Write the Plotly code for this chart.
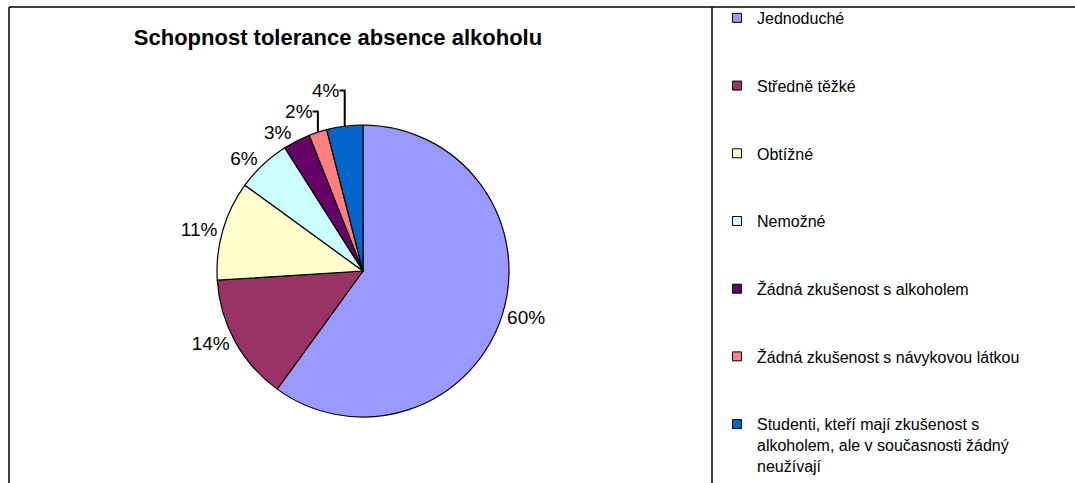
import plotly.graph_objects as go

categories = [
    "Jednoduché",
    "Středně těžké",
    "Obtížné",
    "Nemožné",
    "Žádná zkušenost s alkoholem",
    "Žádná zkušenost s návykovou látkou",
    "Studenti, kteří mají zkušenost s alkoholem, ale v současnosti žádný neužívají",
]
legend_labels = [
    "Jednoduché",
    "Středně těžké",
    "Obtížné",
    "Nemožné",
    "Žádná zkušenost s alkoholem",
    "Žádná zkušenost s návykovou látkou",
    "Studenti, kteří mají zkušenost s<br>alkoholem, ale v současnosti žádný<br>neužívají",
]
values = [60, 14, 11, 6, 3, 2, 4]
colors = ["#9999FF", "#993366", "#FFFFCC", "#CCFFFF", "#660066", "#FF8080", "#0066CC"]
title_text = "Schopnost tolerance absence alkoholu"

W, H = 1075, 483
FONT = "Liberation Sans, Arial, sans-serif"

cx, cy, r = 363, 271, 146

fig = go.Figure()
fig.add_trace(go.Pie(
    labels=categories,
    values=values,
    sort=False,
    direction="clockwise",
    rotation=0,
    marker=dict(colors=colors, line=dict(color="black", width=1.2)),
    textposition="outside",
    texttemplate="%{value}%",
    textfont=dict(size=19, color="black", family=FONT),
    showlegend=False,
    domain=dict(x=[(cx - r) / W, (cx + r) / W], y=[1 - (cy + r) / H, 1 - (cy - r) / H]),
    hoverinfo="label+percent",
))

for i, (lab, c) in enumerate(zip(legend_labels, colors)):
    fig.add_trace(go.Scatter(
        x=[None], y=[None], mode="markers",
        marker=dict(symbol="square", size=9, color=c, line=dict(color="black", width=1)),
        name=lab, legendgroup=f"g{i}", showlegend=True, hoverinfo="skip",
    ))

shapes = [
    dict(type="line", xref="paper", yref="paper", x0=9 / W, x1=1.0, y0=1 - 7 / H, y1=1 - 7 / H,
         line=dict(color="black", width=1.5)),
    dict(type="line", xref="paper", yref="paper", x0=9 / W, x1=9 / W, y0=0, y1=1 - 7 / H,
         line=dict(color="black", width=1.5)),
    dict(type="line", xref="paper", yref="paper", x0=712 / W, x1=712 / W, y0=0, y1=1 - 7 / H,
         line=dict(color="black", width=1.5)),
]

fig.update_layout(
    width=W, height=H,
    margin=dict(l=0, r=0, t=0, b=0),
    paper_bgcolor="white", plot_bgcolor="white",
    font=dict(family=FONT, color="black"),
    title=dict(text=f"<b>{title_text}</b>", x=338 / W, xanchor="center", y=1 - 37 / H, yanchor="middle",
               font=dict(size=22, family=FONT, color="black")),
    xaxis=dict(visible=False), yaxis=dict(visible=False),
    legend=dict(x=717 / W, xanchor="left", y=1 - 17 / H, yanchor="top",
                traceorder="grouped", tracegroupgap=43.9, valign="top",
                font=dict(size=16, family=FONT, color="black"),
                bgcolor="rgba(0,0,0,0)", borderwidth=0),
    shapes=shapes,
)

fig.write_html("out.html", config={"displayModeBar": False},
               post_script="document.body.style.margin='0';document.body.style.overflow='hidden';")
